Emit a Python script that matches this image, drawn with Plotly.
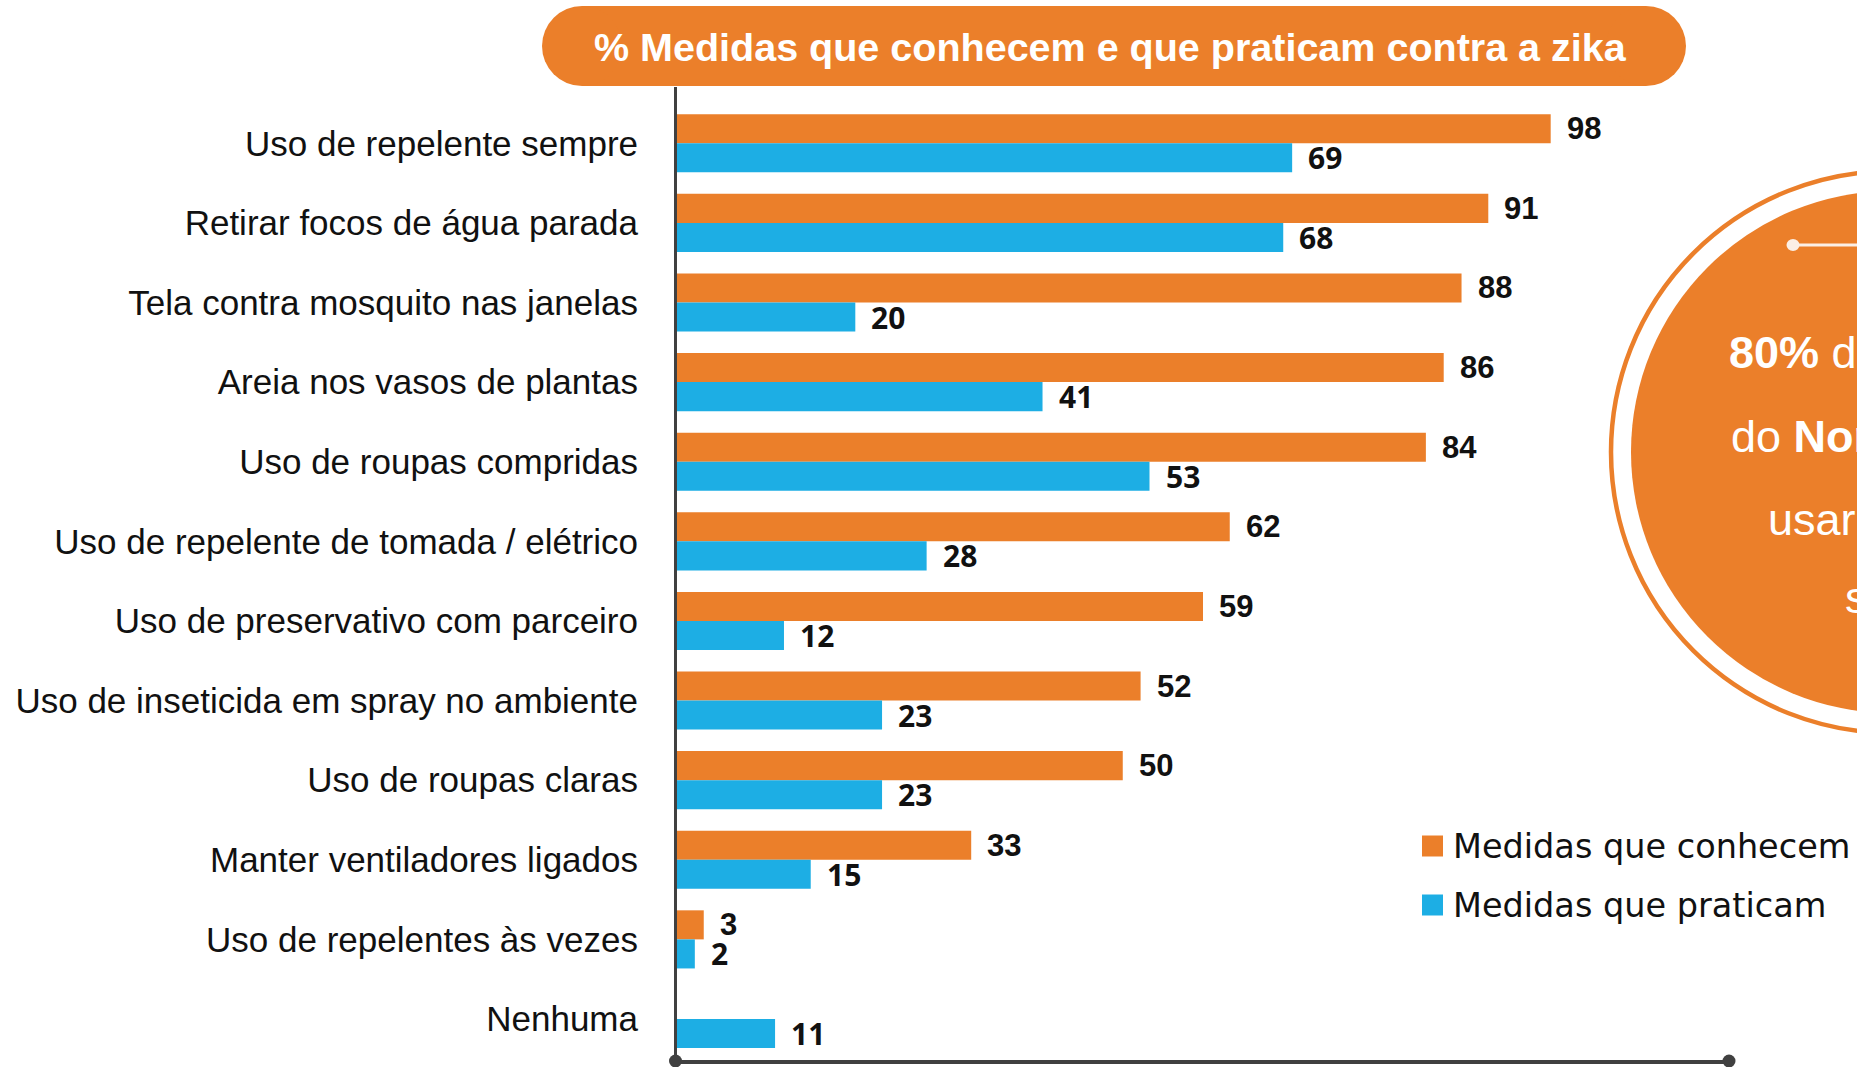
import plotly.graph_objects as go

# ---------------- data ----------------
categories = [
    "Uso de repelente sempre",
    "Retirar focos de água parada",
    "Tela contra mosquito nas janelas",
    "Areia nos vasos de plantas",
    "Uso de roupas compridas",
    "Uso de repelente de tomada / elétrico",
    "Uso de preservativo com parceiro",
    "Uso de inseticida em spray no ambiente",
    "Uso de roupas claras",
    "Manter ventiladores ligados",
    "Uso de repelentes às vezes",
    "Nenhuma",
]
conhecem = [98, 91, 88, 86, 84, 62, 59, 52, 50, 33, 3, None]
praticam = [69, 68, 20, 41, 53, 28, 12, 23, 23, 15, 2, 11]
series_names = ["Medidas que conhecem", "Medidas que praticam"]
series_colors = ["#EB7F2A", "#1DAEE4"]
title_text = "% Medidas que conhecem e que praticam contra a zika"
callout_lines = ["<b>80%</b> das", "do <b>Nordeste</b>", "usar repelente", "sempre"]

# ---------------- geometry ----------------
W, H = 1857, 1067
L, R, T, B = 677, 128, 87, 7
PW, PH = W - L - R, H - T - B
BARGAP = 0.27
ORANGE = series_colors[0]
AXIS = "#404040"
ARIAL = "Liberation Sans, Arial, sans-serif"
HEAVY = "Noto Sans, Open Sans, sans-serif"
WIDE = "DejaVu Sans, sans-serif"


def xp(px):
    return (px - L) / PW


def yp(py):
    return (H - B - py) / PH


idx = list(range(len(categories)))

fig = go.Figure()
for vals, name, col in zip([conhecem, praticam], series_names, series_colors):
    fig.add_trace(go.Bar(
        x=vals, y=idx, orientation="h", name=name,
        marker=dict(color=col, line=dict(width=0)),
        showlegend=False, hoverinfo="x+y",
    ))

annotations = []
shapes = []

# value labels
off = (1 - BARGAP) / 4
label_fonts = [dict(family=ARIAL, size=31, color="#111111", weight="bold"),
               dict(family=HEAVY, size=30, color="#111111", weight="bold")]
for s, vals in enumerate([conhecem, praticam]):
    sign = -1 if s == 0 else 1
    for i, v in enumerate(vals):
        if v is None:
            continue
        annotations.append(dict(
            x=v, y=i + sign * off, xref="x", yref="y", text=str(v),
            showarrow=False, xanchor="left", yanchor="middle", xshift=14,
            font=label_fonts[s],
        ))

# title pill
pill_l, pill_r, pill_t, pill_b = 542, 1686, 6, 86
rad = (pill_b - pill_t) / 2
shapes.append(dict(type="rect", xref="paper", yref="paper",
                   x0=xp(pill_l + rad), x1=xp(pill_r - rad), y0=yp(pill_b), y1=yp(pill_t),
                   fillcolor=ORANGE, line=dict(width=0), layer="above"))
for cx in (pill_l + rad, pill_r - rad):
    shapes.append(dict(type="circle", xref="paper", yref="paper",
                       x0=xp(cx - rad), x1=xp(cx + rad), y0=yp(pill_b), y1=yp(pill_t),
                       fillcolor=ORANGE, line=dict(width=0), layer="above"))
annotations.append(dict(
    x=xp(1110), y=yp(47), xref="paper", yref="paper",
    text="<b>" + title_text + "</b>", showarrow=False,
    xanchor="center", yanchor="middle",
    font=dict(family=ARIAL, size=39.5, color="white"),
))

# axis end dots
for px in (675.5, 1729):
    shapes.append(dict(type="circle", xref="paper", yref="paper",
                       xsizemode="pixel", ysizemode="pixel",
                       xanchor=xp(px), yanchor=yp(1061),
                       x0=-6.5, x1=6.5, y0=-6.5, y1=6.5,
                       fillcolor=AXIS, line=dict(width=0), layer="above"))

# manual legend
leg_y = [846, 905]
for name, col, cy in zip(series_names, series_colors, leg_y):
    shapes.append(dict(type="rect", xref="paper", yref="paper",
                       x0=xp(1422), x1=xp(1443), y0=yp(cy + 10.5), y1=yp(cy - 10.5),
                       fillcolor=col, line=dict(width=0)))
    annotations.append(dict(
        x=xp(1451), y=yp(cy), xref="paper", yref="paper", text=name,
        showarrow=False, xanchor="left", yanchor="middle",
        font=dict(family=WIDE, size=33.5, color="#111111"),
    ))

# callout circle on the right
ccx, ccy = 1892, 452
ring_r, disc_r = 281, 261
shapes.append(dict(type="circle", xref="paper", yref="paper",
                   x0=xp(ccx - ring_r), x1=xp(ccx + ring_r), y0=yp(ccy + ring_r), y1=yp(ccy - ring_r),
                   fillcolor="rgba(0,0,0,0)", line=dict(color=ORANGE, width=4.5)))
shapes.append(dict(type="circle", xref="paper", yref="paper",
                   x0=xp(ccx - disc_r), x1=xp(ccx + disc_r), y0=yp(ccy + disc_r), y1=yp(ccy - disc_r),
                   fillcolor=ORANGE, line=dict(width=0)))
shapes.append(dict(type="line", xref="paper", yref="paper",
                   x0=xp(1793), x1=xp(1870), y0=yp(245), y1=yp(245),
                   line=dict(color="#FBEFE6", width=3)))
shapes.append(dict(type="circle", xref="paper", yref="paper",
                   xsizemode="pixel", ysizemode="pixel",
                   xanchor=xp(1793), yanchor=yp(245),
                   x0=-6.5, x1=6.5, y0=-6, y1=6,
                   fillcolor="#FBEFE6", line=dict(width=0)))
callout_x = [1727, 1729, 1766, 1843]
callout_y = [353, 436, 519, 597]
for txt, lx, ly in zip(callout_lines, callout_x, callout_y):
    annotations.append(dict(
        x=xp(lx), y=yp(ly), xref="paper", yref="paper", text=txt,
        showarrow=False, xanchor="left", yanchor="middle",
        font=dict(family=ARIAL, size=45, color="white"),
    ))

fig.update_layout(
    width=W, height=H,
    margin=dict(l=L, r=R, t=T, b=B, pad=0, autoexpand=False),
    paper_bgcolor="white", plot_bgcolor="white",
    barmode="group", bargap=BARGAP, bargroupgap=0,
    showlegend=False,
    xaxis=dict(range=[0, 118], showgrid=False, zeroline=False, showticklabels=False,
               ticks="", showline=True, linecolor=AXIS, linewidth=3.5, fixedrange=True,
               automargin=False),
    yaxis=dict(range=[11.515, -0.707], tickmode="array", tickvals=idx, ticktext=categories,
               showgrid=False, zeroline=False, ticks="", showline=True,
               linecolor=AXIS, linewidth=3, ticklabelstandoff=29, automargin=False,
               tickfont=dict(family=ARIAL, size=35, color="#111111"), fixedrange=True),
    shapes=shapes,
    annotations=annotations,
)

fig.write_html(
    "out.html",
    config={"displayModeBar": False},
    post_script="document.body.style.margin='0';document.body.style.overflow='hidden';",
)
